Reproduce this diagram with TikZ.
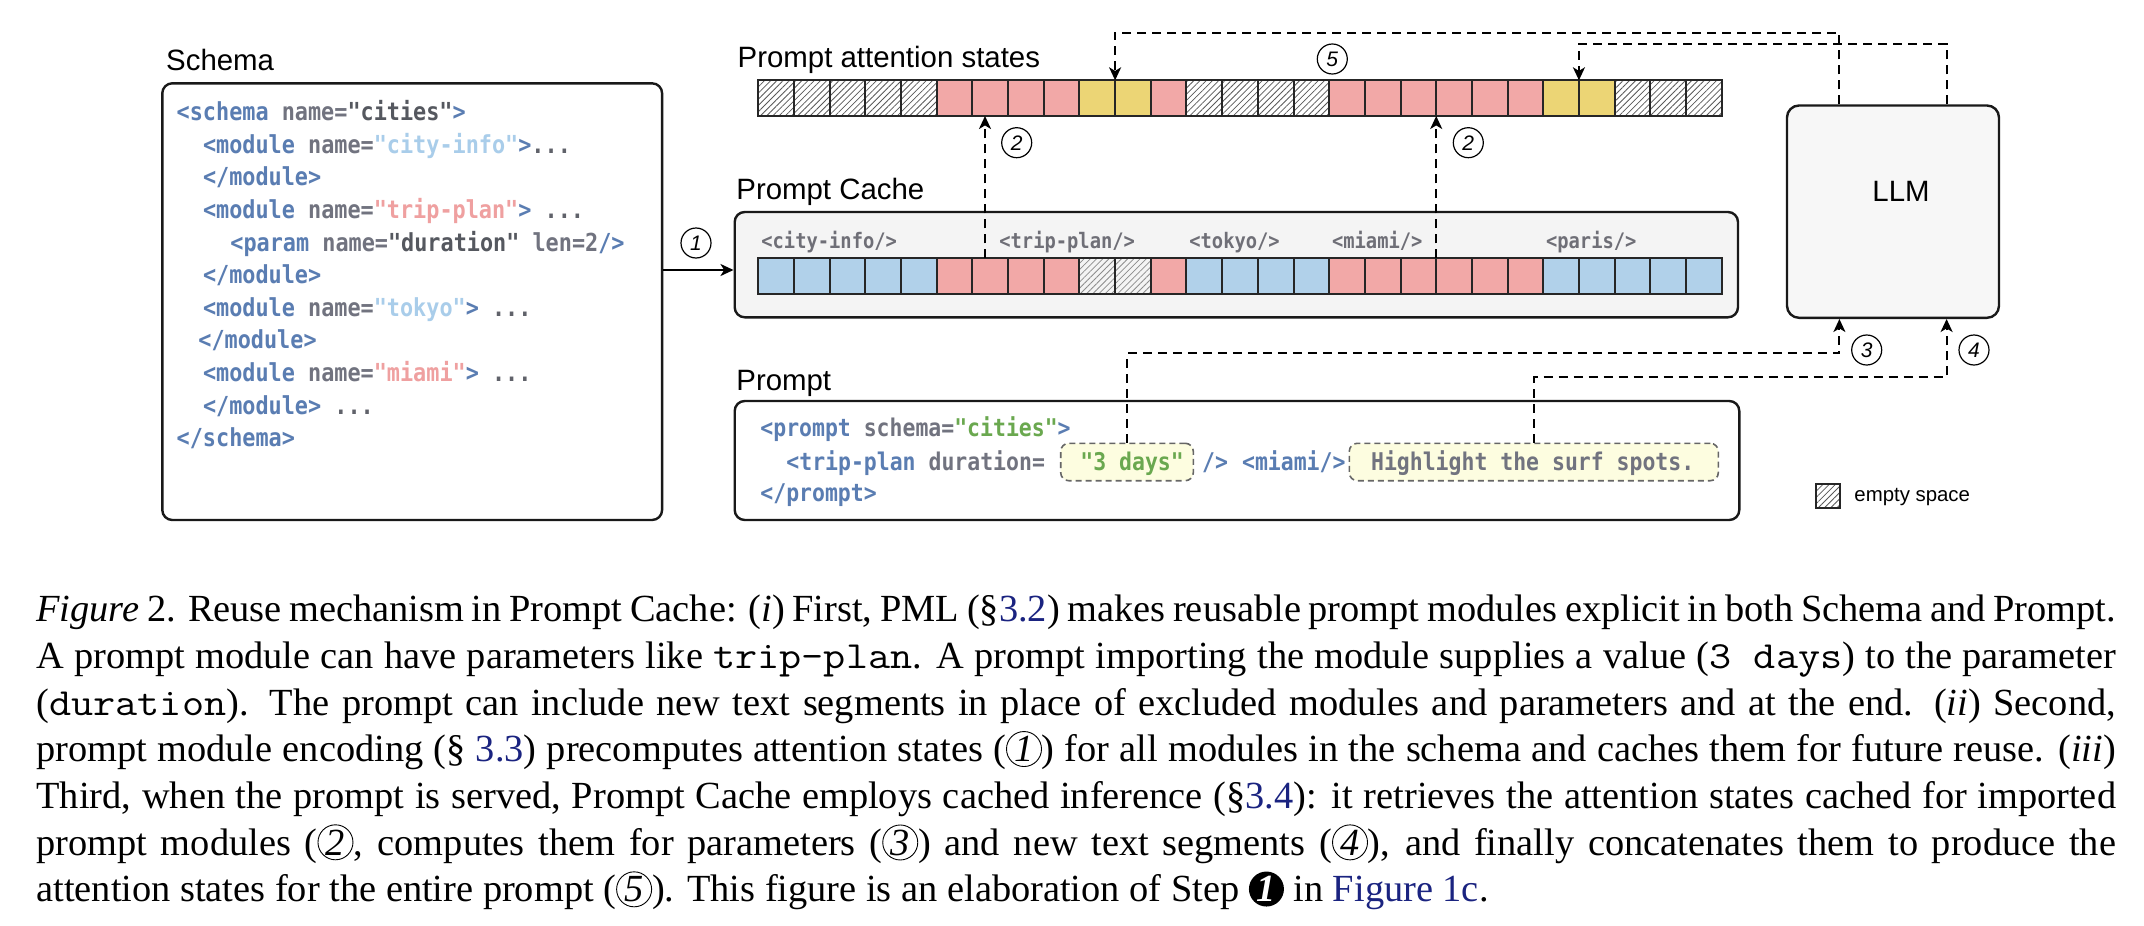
\documentclass[tikz,border=0pt]{standalone}
\usepackage{fontspec}
\setmainfont{Liberation Serif}
\setmonofont{Latin Modern Mono}[FakeStretch=1.12]
\newfontfamily\labelf{Liberation Sans}
\newfontfamily\codef{DejaVu Sans Mono}[FakeStretch=0.88]
\usetikzlibrary{arrows.meta,patterns.meta,fit,calc}
\definecolor{tagblue}{HTML}{5A7DB2}
\definecolor{attrgray}{HTML}{71737F}
\definecolor{valdark}{HTML}{55585F}
\definecolor{strblue}{HTML}{A9CDEA}
\definecolor{strpink}{HTML}{EFA0A0}
\definecolor{strgreen}{HTML}{6AA84F}
\definecolor{dotgray}{HTML}{60626A}
\definecolor{cellpink}{HTML}{F2A8A7}
\definecolor{cellblue}{HTML}{B1D1EA}
\definecolor{cellyellow}{HTML}{ECD575}
\definecolor{cachebg}{HTML}{F4F4F4}
\definecolor{llmbg}{HTML}{F7F7F7}
\definecolor{notebg}{HTML}{FDFDE0}
\definecolor{cachelbl}{HTML}{6F6F77}
\definecolor{linkblue}{HTML}{1A2380}
\newcommand\tgc[1]{\textcolor{tagblue}{#1}}
\newcommand\atc[1]{\textcolor{attrgray}{#1}}
\newcommand\vdc[1]{\textcolor{valdark}{#1}}
\newcommand\sbc[1]{\textcolor{strblue}{#1}}
\newcommand\spc[1]{\textcolor{strpink}{#1}}
\newcommand\sgc[1]{\textcolor{strgreen}{#1}}
\newcommand\dtc[1]{\textcolor{dotgray}{#1}}
\newcommand\lnk[1]{\textcolor{linkblue}{#1}}
\newcommand\cnum[1]{\tikz[baseline=(cn.base)]\node[circle,draw,line width=0.45pt,inner sep=0.4pt,minimum size=17.5pt,anchor=center](cn){\itshape #1};}
\newcommand\bnum[1]{\tikz[baseline=(cn.base)]\node[circle,fill=black,text=white,inner sep=0.4pt,minimum size=17.5pt,anchor=center](cn){\itshape\bfseries #1};}
\begin{document}
\begin{tikzpicture}[x=0.5pt,y=-0.5pt,
  txt/.style={inner sep=0pt, anchor=base west},
  lbl/.style={txt, font=\labelf\fontsize{14.7}{17}\selectfont},
  sch/.style={txt, font=\codef\bfseries\fontsize{12.4}{14}\selectfont},
  prm/.style={txt, font=\codef\bfseries\fontsize{12.2}{14}\selectfont},
  clb/.style={txt, font=\codef\bfseries\fontsize{10.66}{12}\selectfont, text=cachelbl},
  capl/.style={txt, font=\fontsize{19.19}{23.33}\selectfont},
  cell/.style={draw=black!85, line width=1pt, minimum width=17.84pt, minimum height=17.85pt, inner sep=0pt, outer sep=0pt},
  cellH/.style={preaction={fill=white}, pattern={Lines[angle=45,distance=2.2pt,line width=0.4pt]}, pattern color=black!65},
  cellG/.style={preaction={fill=cachebg}, pattern={Lines[angle=45,distance=2.2pt,line width=0.4pt]}, pattern color=black!45},
  cellP/.style={fill=cellpink},
  cellY/.style={fill=cellyellow},
  cellB/.style={fill=cellblue},
  box/.style={draw=black!90, line width=1.2pt, rounded corners=5pt, inner sep=0pt},
  note/.style={draw=black!60, dash pattern=on 3pt off 2pt, line width=0.8pt, rounded corners=4pt, fill=notebg, inner sep=0pt},
  num/.style={circle, draw, line width=0.6pt, minimum size=15pt, inner sep=0pt, font=\labelf\itshape\fontsize{10.5}{12}\selectfont},
  darr/.style={line width=1pt, dash pattern=on 4.5pt off 3pt, -{Stealth[length=6.5pt,width=6pt,inset=1.8pt]}},
  sarr/.style={line width=1pt, -{Stealth[length=6.5pt,width=6pt,inset=1.8pt]}}]
\useasboundingbox (0,0) rectangle (2144,926);
\fill[white] (0,0) rectangle (2144,926);

% ---------- boxes ----------
\node[box, fill=white, fit={(162.3,83.3) (662.1,520)}] (schema) {};
\node[box, fill=cachebg, fit={(734.7,212) (1738,317.3)}] (cache) {};
\node[box, fill=white, fit={(734.7,401) (1739.3,520)}] (prompt) {};
\node[box, fill=llmbg, rounded corners=6pt, fit={(1787,105.5) (1999,317.8)}] (llm) {};

% ---------- labels ----------
\node[lbl] (lschema) at (165.8,70) {Schema};
\node[lbl] (latt) at (737.3,68) {Prompt attention states};
\node[lbl] (lcache) at (736,199) {Prompt Cache};
\node[lbl] (lprompt) at (736,390.7) {Prompt};
\node[inner sep=0pt, font=\labelf\fontsize{14.7}{17}\selectfont] (llmtxt) at (1901,191) {LLM};

% ---------- schema code ----------
\node[sch] (s1) at (176.3,120.7) {\tgc{<schema} \atc{name=}\vdc{"cities"}\tgc{>}};
\node[sch] (s2) at (202.6,153.3) {\tgc{<module} \atc{name=}\sbc{"city-info"}\tgc{>}\dtc{...}};
\node[sch] (s3) at (202.6,185.9) {\tgc{</module>}};
\node[sch] (s4) at (202.6,218.5) {\tgc{<module} \atc{name=}\spc{"trip-plan"}\tgc{>} \dtc{...}};
\node[sch] (s5) at (230,251.1) {\tgc{<param} \atc{name=}\vdc{"duration"} \atc{len=2}\tgc{/>}};
\node[sch] (s6) at (202.6,283.7) {\tgc{</module>}};
\node[sch] (s7) at (202.6,316.3) {\tgc{<module} \atc{name=}\sbc{"tokyo"}\tgc{>} \dtc{...}};
\node[sch] (s8) at (198,348.9) {\tgc{</module>}};
\node[sch] (s9) at (202.6,381.5) {\tgc{<module} \atc{name=}\spc{"miami"}\tgc{>} \dtc{...}};
\node[sch] (s10) at (202.6,414.1) {\tgc{</module>} \dtc{...}};
\node[sch] (s11) at (176.3,446.7) {\tgc{</schema>}};

% ---------- attention bar ----------
\foreach \k [count=\i from 0] in {H,H,H,H,H,P,P,P,P,Y,Y,P,H,H,H,H,P,P,P,P,P,P,Y,Y,H,H,H}
  \node[cell, cell\k] (att\i) at ({758.3+35.68*(\i+0.5)},98.15) {};

% ---------- cache bar ----------
\foreach \k [count=\i from 0] in {B,B,B,B,B,P,P,P,P,G,G,P,B,B,B,B,P,P,P,P,P,P,B,B,B,B,B}
  \node[cell, cell\k] (cc\i) at ({758.3+35.68*(\i+0.5)},276.3) {};

\node[clb] (ccity) at (761,248.3) {<city-info/>};
\node[clb] (ctrip) at (999,248.3) {<trip-plan/>};
\node[clb] (ctokyo) at (1189,248.3) {<tokyo/>};
\node[clb] (cmiami) at (1331.7,248.3) {<miami/>};
\node[clb] (cparis) at (1545.7,248.3) {<paris/>};

% ---------- prompt code ----------
\node[note, fit={(1060.7,443.3) (1193.3,480.7)}] (days) {};
\node[note, fit={(1349.3,443.3) (1718.3,480.7)}] (hl) {};
\node[prm] (p1) at (760,436.7) {\tgc{<prompt} \atc{schema=}\sgc{"cities"}\tgc{>}};
\node[prm] (p2) at (786,470) {\tgc{<trip-plan} \atc{duration=}};
\node[prm] (p2v) at (1080,470) {\sgc{"3 days"}};
\node[prm] (p2c) at (1201.7,470) {\tgc{/>}};
\node[prm] (p2m) at (1241.7,470) {\tgc{<miami/>}};
\node[prm] (p2h) at (1370.7,470) {\atc{Highlight the surf spots.}};
\node[prm] (p3) at (760,501.7) {\tgc{</prompt>}};

% ---------- legend ----------
\node[cell, cellH, minimum width=12pt, minimum height=12pt, line width=0.9pt] (leg) at (1828,496.2) {};
\node[txt, anchor=mid west, font=\labelf\fontsize{10.2}{12}\selectfont] (legt) at (1854,497) {empty space};

% ---------- connectors ----------
\coordinate (a1) at (schema.east |- 0,270);
\draw[sarr] (a1) -- (a1 -| cache.west);
\node[num] (n1) at (696,243) {1};

\coordinate (c2a) at (985,258.3);
\draw[darr] (c2a) -- (c2a |- att6.south);
\draw[darr] (cc18.north east) -- (att18.south east);
\node[num] (n2a) at (1016.7,142.7) {2};
\node[num] (n2b) at (1468.3,142.7) {2};

\coordinate (lt1) at ($(llm.north west)!0.25!(llm.north east)$);
\coordinate (lt2) at ($(llm.north west)!0.75!(llm.north east)$);
\coordinate (lb1) at ($(llm.south west)!0.25!(llm.south east)$);
\coordinate (lb2) at ($(llm.south west)!0.75!(llm.south east)$);
\draw[darr] (lt1) |- (att9.north east |- 0,32.5) -- (att9.north east);
\draw[darr] (lt2) |- (att22.north east |- 0,44) -- (att22.north east);
\node[num] (n5) at (1332.3,59) {5};

\draw[darr] (days.north) -- (days.north |- 0,353.3) -| (lb1);
\draw[darr] (hl.north) -- (hl.north |- 0,377.3) -| (lb2);
\node[num] (n3) at (1866.7,350) {3};
\node[num] (n4) at (1974,350) {4};

% ---------- caption ----------
\node[capl] (cap1) at (36,621.7) {\makebox[1039.85pt][s]{\textit{Figure} 2. Reuse mechanism in Prompt Cache: (\textit{i}) First, PML (§\lnk{3.2}) makes reusable prompt modules explicit in both Schema and Prompt.}};
\node[capl] (cap2) at (36,668.3) {\makebox[1039.85pt][s]{A prompt module can have parameters like \texttt{trip-plan}. A prompt importing the module supplies a value (\texttt{3\kern0.588em days}) to the parameter}};
\node[capl] (cap3) at (36,715) {\makebox[1039.85pt][s]{(\texttt{duration}). The prompt can include new text segments in place of excluded modules and parameters and at the end. (\textit{ii}) Second,}};
\node[capl] (cap4) at (36,761.7) {\makebox[1039.85pt][s]{prompt module encoding (§ \lnk{3.3}) precomputes attention states (\cnum{1}) for all modules in the schema and caches them for future reuse. (\textit{iii})}};
\node[capl] (cap5) at (36,808.3) {\makebox[1039.85pt][s]{Third, when the prompt is served, Prompt Cache employs cached inference (§\lnk{3.4}): it retrieves the attention states cached for imported}};
\node[capl] (cap6) at (36,855) {\makebox[1039.85pt][s]{prompt modules (\cnum{2}, computes them for parameters (\cnum{3}) and new text segments (\cnum{4}), and finally concatenates them to produce the}};
\node[capl] (cap7) at (36,901.7) {attention states for the entire prompt (\cnum{5}). This figure is an elaboration of Step \bnum{1} in \lnk{Figure 1c}.};
\end{tikzpicture}
\end{document}
